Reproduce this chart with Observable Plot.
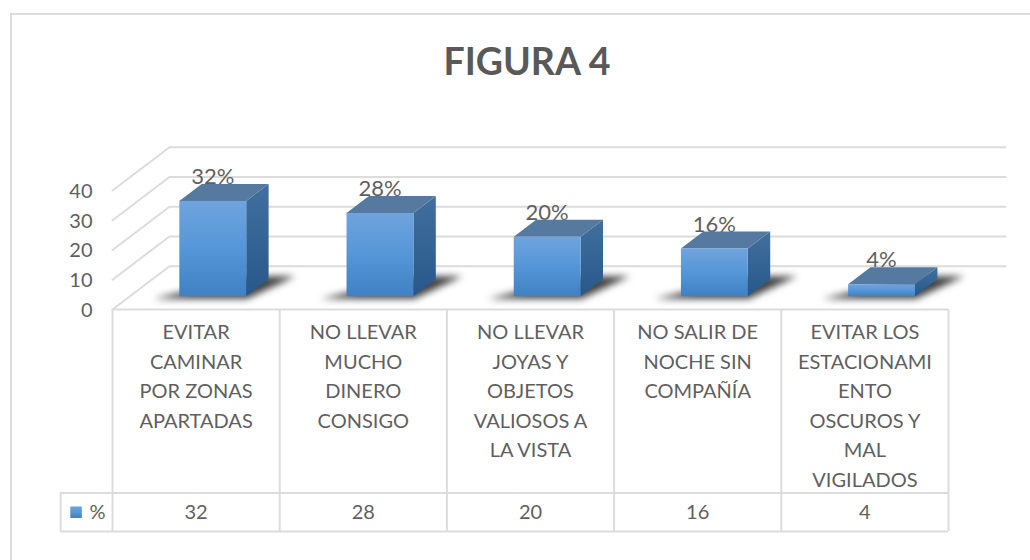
<!DOCTYPE html>
<html>
<head>
<meta charset="utf-8">
<script src="https://cdn.jsdelivr.net/npm/d3@7"></script>
<script src="https://cdn.jsdelivr.net/npm/@observablehq/plot@0.6"></script>
<style>
  html, body { margin: 0; padding: 0; background: #fff; }
  #wrap { position: relative; width: 1030px; height: 560px; overflow: hidden; font-family: Lato, sans-serif; }
  #border { position: absolute; left: 10px; top: 13px; right: -4px; bottom: -4px; border: 2px solid #dcdcdc; }
  h1 { position: absolute; left: 0; top: 37px; width: 1054px; margin: 0; text-align: center; font: 700 37.5px/48px Lato, sans-serif; color: #595959; }
  svg { position: absolute; left: 0; top: 0; background: transparent !important; }
</style>
</head>
<body>
<div id="wrap">
  <div id="border"></div>
  <h1>FIGURA 4</h1>
</div>
<script>
const categories = [
  "EVITAR\nCAMINAR\nPOR ZONAS\nAPARTADAS",
  "NO LLEVAR\nMUCHO\nDINERO\nCONSIGO",
  "NO LLEVAR\nJOYAS Y\nOBJETOS\nVALIOSOS A\nLA VISTA",
  "NO SALIR DE\nNOCHE SIN\nCOMPAÑÍA",
  "EVITAR LOS\nESTACIONAMI\nENTO\nOSCUROS Y\nMAL\nVIGILADOS"
];
const values = [32, 28, 20, 16, 4];
const yTicks = [0, 10, 20, 30, 40];
const seriesName = "%";

// Oblique projection, in data units
const skewX = 0.341, skewY = 14.55;
const P = (x, v, d) => ({x: x + d * skewX, y: v + d * skewY});
const barFront = 0.307, barBack = 0.70, barL = 0.295, barR = 0.695;
const rowValues = -61.7, rowBottom = -74.6, legendLeft = -0.31;
const n = categories.length;

const poly = (id, pts) => pts.map(p => ({id, ...p}));
const grid = yTicks.flatMap(v => poly(v, [P(0, v, 0), P(0, v, 1), P(n, v, 1)]));
const bars = values.map((v, i) => ({v, l: i + barL, r: i + barR}));
const front = bars.flatMap((b, i) => poly(i, [P(b.l, 0, barFront), P(b.r, 0, barFront), P(b.r, b.v, barFront), P(b.l, b.v, barFront)]));
const side = bars.flatMap((b, i) => poly(i, [P(b.r, 0, barFront), P(b.r, 0, barBack), P(b.r, b.v, barBack), P(b.r, b.v, barFront)]));
const top_ = bars.flatMap((b, i) => poly(i, [P(b.l, b.v, barFront), P(b.r, b.v, barFront), P(b.r, b.v, barBack), P(b.l, b.v, barBack)]));
const shadow = bars.flatMap((b, i) => poly(i, [P(i + 0.16, 0, 0.25), P(i + 0.72, 0, 0.25), P(i + 0.83, 0, 0.77), P(i + 0.56, 0, 0.77)]));

const ink = "#5f5f5f", line = "#dcdcdc", lineW = 2;
const face = (data, fill, extra = {}) => Plot.line(data, {x: "x", y: "y", z: "id", fill, stroke: "none", ...extra});

const chart = Plot.plot({
  width: 1030, height: 560,
  marginLeft: 112, marginRight: 82, marginTop: 190, marginBottom: 251,
  x: {domain: [0, n], axis: null},
  y: {domain: [0, 40], axis: null},
  style: {fontFamily: "Lato, sans-serif", background: "transparent"},
  marks: [
    Plot.line(grid, {x: "x", y: "y", z: "id", stroke: line, strokeWidth: lineW}),
    Plot.axisY({ticks: yTicks, anchor: "left", tickSize: 0, tickPadding: 20, fontSize: 20, fill: ink, label: null, dy: 1}),
    // table
    Plot.ruleY([0, rowValues], {x1: 0, x2: n, stroke: line, strokeWidth: lineW}),
    Plot.ruleY([rowValues, rowBottom], {x1: legendLeft, x2: n, stroke: line, strokeWidth: lineW}),
    Plot.ruleX(d3.range(n + 1), {y1: 0, y2: rowBottom, stroke: line, strokeWidth: lineW}),
    Plot.ruleX([legendLeft], {y1: rowValues, y2: rowBottom, stroke: line, strokeWidth: lineW}),
    Plot.text(categories, {x: (d, i) => i + 0.5, y: -2.9, text: d => d, lineAnchor: "top", lineHeight: 1.475, fontSize: 20, fill: ink}),
    Plot.text(values, {x: (d, i) => i + 0.5, y: (rowValues + rowBottom) / 2, text: d => String(d), fontSize: 20, fill: ink}),
    Plot.text([seriesName], {x: -0.09, y: (rowValues + rowBottom) / 2, text: d => d, fontSize: 20, fill: ink}),
    Plot.dot([seriesName], {x: -0.218, y: (rowValues + rowBottom) / 2, symbol: "square", r: 6.5, fill: "url(#gFront)", stroke: "none"}),
    // bars
    face(shadow, "#2e2e2e", {imageFilter: "blur(3.5px)", opacity: 0.9}),
    Plot.text(values, {
      x: (d, i) => i + 0.5 + barFront * skewX - 0.005,
      y: d => d + barFront * skewY,
      dy: -24,
      text: d => d + "%",
      fontSize: 22,
      fill: ink
    }),
    face(side, "url(#gSide)"),
    face(top_, "#56799f"),
    face(front, "url(#gFront)")
  ]
});

const defs = d3.select(chart).insert("defs", ":first-child");
const grad = (id, stops) => {
  const g = defs.append("linearGradient").attr("id", id).attr("x1", 0).attr("y1", 0).attr("x2", 0).attr("y2", 1);
  stops.forEach(([o, c]) => g.append("stop").attr("offset", o).attr("stop-color", c));
};
grad("gFront", [[0, "#6fa4de"], [0.5, "#5596d8"], [1, "#3f81c4"]]);
grad("gSide", [[0, "#41709f"], [1, "#28588a"]]);

document.getElementById("wrap").appendChild(chart);
</script>
</body>
</html>
